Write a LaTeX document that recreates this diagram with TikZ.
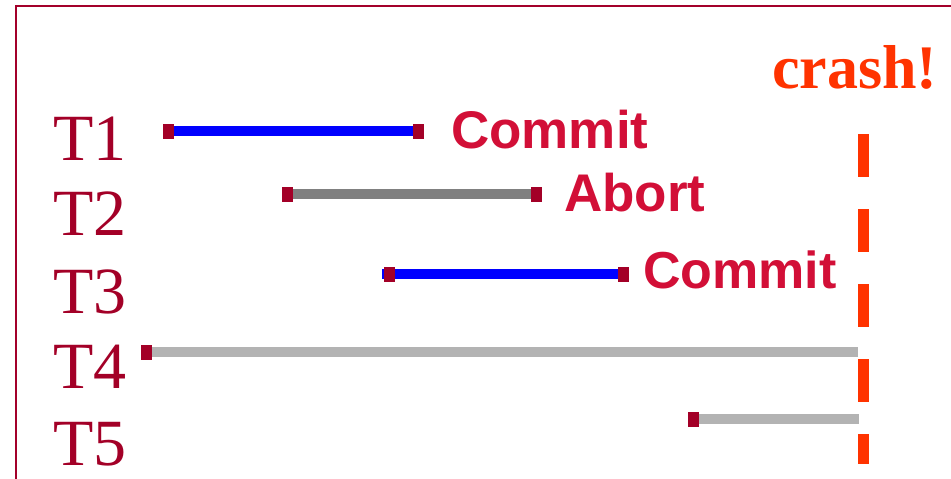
\documentclass[tikz,border=0pt]{standalone}
\usepackage{fontspec}
\setmainfont{Liberation Serif}
\newfontfamily\labsans{Liberation Sans}
\usetikzlibrary{backgrounds}
\definecolor{framered}{HTML}{A3002A}
\definecolor{sqred}{HTML}{A30027}
\definecolor{txtred}{HTML}{D20F37}
\definecolor{crashred}{HTML}{FF3300}
\definecolor{lgray}{HTML}{B3B3B3}
\definecolor{dgray}{HTML}{808080}
\tikzset{
  tlabel/.style={anchor=base west, inner sep=0pt, text=sqred, font=\fontsize{66}{66}\selectfont},
  outcome/.style={anchor=base west, inner sep=0pt, text=txtred, font=\labsans\bfseries\fontsize{53}{53}\selectfont},
  endsq/.style={rectangle, fill=sqred, draw=none, minimum width=11pt, minimum height=15pt, inner sep=0pt},
  txline/.style={line width=10pt},
}
\begin{document}
\begin{tikzpicture}[x=1pt,y=-1pt]
\useasboundingbox (0,0) rectangle (951,479);
% frame
\draw[framered, line width=2.4pt] (16,480) -- (16,6) -- (952,6);
% labels
\node[tlabel] (t1) at (53,160) {T1};
\node[tlabel] (t2) at (53,235) {T2};
\node[tlabel] (t3) at (53,313) {T3};
\node[tlabel] (t4) at (53,388) {T4};
\node[tlabel] (t5) at (53,465) {T5};
% crash
\node[anchor=base west, inner sep=0pt, text=crashred, font=\bfseries\fontsize{62}{62}\selectfont] (crash) at (772,88) {crash!};
\coordinate (ctop) at (863.5,134);
\coordinate (cbot) at (863.5,464);
\draw[crashred, line width=11pt, dash pattern=on 43pt off 32pt] (ctop) -- (cbot);
% squares
\node[endsq] (s1a) at (168.5,131) {};
\node[endsq] (s1b) at (418,131) {};
\node[endsq] (s2a) at (287,194) {};
\node[endsq] (s2b) at (536.5,194) {};
\node[endsq] (s3a) at (389,274) {};
\node[endsq] (s3b) at (623,274) {};
\node[endsq] (s4a) at (146,352) {};
\node[endsq] (s5a) at (693.5,419) {};
\coordinate (s3l) at (382,274);
\coordinate (e4) at (858,352);
\coordinate (e5) at (859,419);
\begin{pgfonlayer}{background}
\draw[txline, blue] (s1a.center) -- (s1b.center);
\draw[txline, dgray] (s2a.center) -- (s2b.center);
\draw[txline, blue] (s3l) -- (s3b.center);
\draw[txline, lgray] (s4a.center) -- (e4);
\draw[txline, lgray] (s5a.center) -- (e5);
\end{pgfonlayer}
% outcomes
\node[outcome] (c1) at (451,148) {Commit};
\node[outcome] (ab) at (564,211) {Abort};
\node[outcome, font=\labsans\bfseries\fontsize{52}{52}\selectfont] (c3) at (643,288) {Commit};
\end{tikzpicture}
\end{document}
